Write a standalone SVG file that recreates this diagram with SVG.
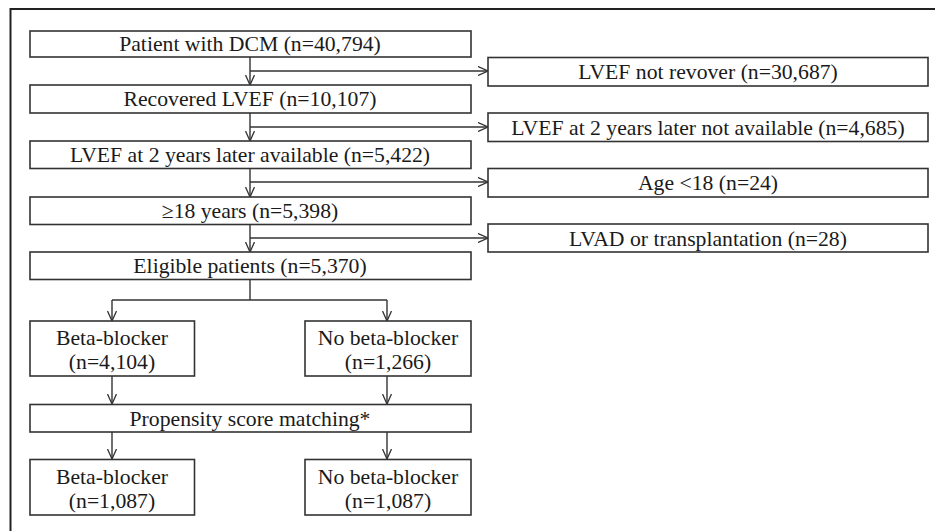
<svg xmlns="http://www.w3.org/2000/svg" width="935" height="531" viewBox="0 0 935 531">
<style>
.box{fill:#fff;stroke:#333;stroke-width:1.6}
.t{font-family:"Liberation Serif","Times New Roman",serif;font-size:21.7px;fill:#1a1a1a;text-anchor:middle}
.c{fill:none;stroke:#333;stroke-width:1.4}
</style>
<defs>
<marker id="a" viewBox="0 0 10 10" refX="10" refY="5" markerWidth="10" markerHeight="10" markerUnits="userSpaceOnUse" orient="auto">
<path d="M0,0.5 L10,5 L0,9.5" fill="none" stroke="#333" stroke-width="1.3"/>
</marker>
</defs>
<rect width="935" height="531" fill="#fff"/>
<path d="M10.5,531 V9 H935" fill="none" stroke="#222" stroke-width="2"/>
<g id="connectors">
<path class="c" d="M250,57 V85" marker-end="url(#a)"/>
<path class="c" d="M250,71 H488" marker-end="url(#a)"/>
<path class="c" d="M250,113 V141" marker-end="url(#a)"/>
<path class="c" d="M250,127 H488" marker-end="url(#a)"/>
<path class="c" d="M250,168 V197" marker-end="url(#a)"/>
<path class="c" d="M250,182 H488" marker-end="url(#a)"/>
<path class="c" d="M250,224 V252" marker-end="url(#a)"/>
<path class="c" d="M250,238 H488" marker-end="url(#a)"/>
<path class="c" d="M250,279 V300"/>
<path class="c" d="M112,300 H387"/>
<path class="c" d="M112,300 V321" marker-end="url(#a)"/>
<path class="c" d="M387,300 V321" marker-end="url(#a)"/>
<path class="c" d="M112,376 V404" marker-end="url(#a)"/>
<path class="c" d="M387,376 V404" marker-end="url(#a)"/>
<path class="c" d="M112,432 V459" marker-end="url(#a)"/>
<path class="c" d="M387,432 V459" marker-end="url(#a)"/>
</g>
<g id="n1"><rect class="box" x="30" y="31" width="441" height="26"/><text class="t" x="250" y="51">Patient with DCM (n=40,794)</text></g>
<g id="x1"><rect class="box" x="488" y="57.5" width="440" height="28.5"/><text class="t" x="708" y="79">LVEF not revover (n=30,687)</text></g>
<g id="n2"><rect class="box" x="30" y="85" width="441" height="28"/><text class="t" x="250" y="106">Recovered LVEF (n=10,107)</text></g>
<g id="x2"><rect class="box" x="488" y="113" width="440" height="28.5"/><text class="t" x="708" y="134.5">LVEF at 2 years later not available (n=4,685)</text></g>
<g id="n3"><rect class="box" x="30" y="141" width="441" height="27.5"/><text class="t" x="250" y="161.5">LVEF at 2 years later available (n=5,422)</text></g>
<g id="x3"><rect class="box" x="488" y="168.5" width="440" height="28.5"/><text class="t" x="708" y="189.5">Age &lt;18 (n=24)</text></g>
<g id="n4"><rect class="box" x="30" y="197" width="441" height="27.5"/><text class="t" x="250" y="217.5">≥18 years (n=5,398)</text></g>
<g id="x4"><rect class="box" x="488" y="224" width="440" height="28"/><text class="t" x="708" y="245.5">LVAD or transplantation (n=28)</text></g>
<g id="n5"><rect class="box" x="30" y="252" width="441" height="27.5"/><text class="t" x="250" y="272.5">Eligible patients (n=5,370)</text></g>
<g id="bb1"><rect class="box" x="30" y="321" width="164.5" height="55"/><text class="t" x="112" y="344.5">Beta-blocker</text><text class="t" x="112" y="369">(n=4,104)</text></g>
<g id="nb1"><rect class="box" x="305" y="321" width="166" height="55"/><text class="t" x="388" y="344.5">No beta-blocker</text><text class="t" x="388" y="369">(n=1,266)</text></g>
<g id="psm"><rect class="box" x="30" y="404.5" width="441" height="27.5"/><text class="t" x="250" y="425.5">Propensity score matching*</text></g>
<g id="bb2"><rect class="box" x="30" y="459.5" width="164.5" height="55.5"/><text class="t" x="112" y="483.5">Beta-blocker</text><text class="t" x="112" y="508">(n=1,087)</text></g>
<g id="nb2"><rect class="box" x="305" y="459.5" width="166" height="55.5"/><text class="t" x="388" y="483.5">No beta-blocker</text><text class="t" x="388" y="508">(n=1,087)</text></g>
</svg>
